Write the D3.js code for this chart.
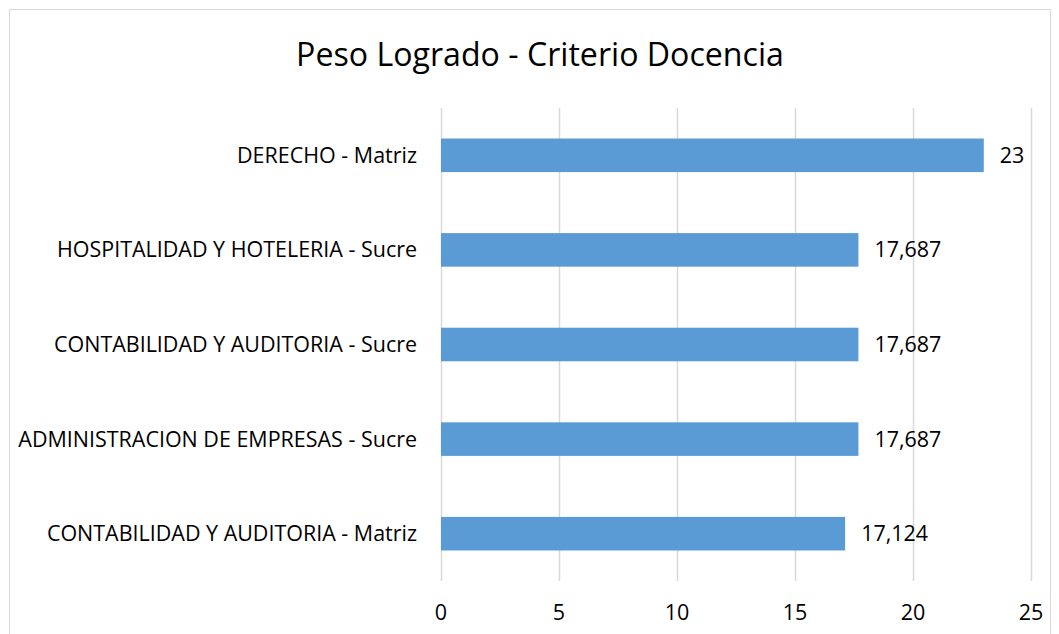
<!DOCTYPE html>
<html>
<head>
<meta charset="utf-8">
<script src="https://cdn.jsdelivr.net/npm/d3@7"></script>
<style>
  body { margin: 0; background: #fff; }
  text { font-family: "Open Sans", "Noto Sans", sans-serif; fill: #000; }
</style>
</head>
<body>
<div class="chart"></div>
<script>
// data
var categories = [
  "DERECHO - Matriz",
  "HOSPITALIDAD Y HOTELERIA - Sucre",
  "CONTABILIDAD Y AUDITORIA - Sucre",
  "ADMINISTRACION DE EMPRESAS - Sucre",
  "CONTABILIDAD Y AUDITORIA - Matriz"
];
var values = [23, 17.687, 17.687, 17.687, 17.124];
var valueLabels = ["23", "17,687", "17,687", "17,687", "17,124"];
var ticks = [0, 5, 10, 15, 20, 25];
var title = "Peso Logrado - Criterio Docencia";

var w = 1059, h = 634;
var margin = {top: 108, right: 28, bottom: 53, left: 441};

var svg = d3.select("div.chart")
            .append("svg")
            .attr("width", w)
            .attr("height", h);

// chart area border
svg.append("rect")
   .attr("x", 9.5).attr("y", 9.5)
   .attr("width", 1041).attr("height", 640)
   .attr("fill", "none")
   .attr("stroke", "#d9d9d9");

var x = d3.scaleLinear()
          .domain([0, 25])
          .range([margin.left, w - margin.right]);

var y = d3.scaleBand()
          .domain(categories)
          .range([margin.top, h - margin.bottom])
          .paddingInner(0.645)
          .paddingOuter(0.3225);

// fit a font size so a string takes a given width
function fitSize(str, target, base) {
  var t = svg.append("text").style("font-size", base + "px").text(str);
  var len = t.node().getComputedTextLength();
  t.remove();
  return base * target / len;
}

var labelSize = fitSize("ADMINISTRACION DE EMPRESAS - Sucre", 399, 20);
var titleSize = fitSize(title, 488, 30);

//gridlines
svg.append("g")
   .selectAll("line")
   .data(ticks)
   .enter()
   .append("line")
   .attr("x1", function(d){ return Math.round(x(d)) + 0.5; })
   .attr("x2", function(d){ return Math.round(x(d)) + 0.5; })
   .attr("y1", margin.top)
   .attr("y2", h - margin.bottom)
   .attr("stroke", "#d9d9d9")
   .attr("stroke-width", 1.5);

//tick labels
svg.append("g")
   .selectAll("text")
   .data(ticks)
   .enter()
   .append("text")
   .attr("x", function(d){ return x(d); })
   .attr("y", 620)
   .attr("text-anchor", "middle")
   .style("font-size", labelSize + "px")
   .text(function(d){ return d; });

//bars
svg.append("g")
   .selectAll("rect")
   .data(values)
   .enter()
   .append("rect")
   .attr("x", x(0))
   .attr("y", function(d, i){ return y(categories[i]); })
   .attr("width", function(d){ return x(d) - x(0); })
   .attr("height", y.bandwidth())
   .attr("fill", "#5b9bd5");

//value labels
svg.append("g")
   .selectAll("text")
   .data(values)
   .enter()
   .append("text")
   .attr("x", function(d){ return x(d) + 16; })
   .attr("y", function(d, i){ return y(categories[i]) + y.bandwidth() / 2; })
   .attr("dy", "0.35em")
   .style("font-size", labelSize + "px")
   .text(function(d, i){ return valueLabels[i]; });

//category labels
svg.append("g")
   .selectAll("text")
   .data(categories)
   .enter()
   .append("text")
   .attr("x", 417)
   .attr("y", function(d){ return y(d) + y.bandwidth() / 2; })
   .attr("dy", "0.35em")
   .attr("text-anchor", "end")
   .style("font-size", labelSize + "px")
   .text(function(d){ return d; });

//title
svg.append("text")
   .attr("x", 540)
   .attr("y", 66)
   .attr("text-anchor", "middle")
   .style("font-size", titleSize + "px")
   .text(title);
</script>
</body>
</html>
